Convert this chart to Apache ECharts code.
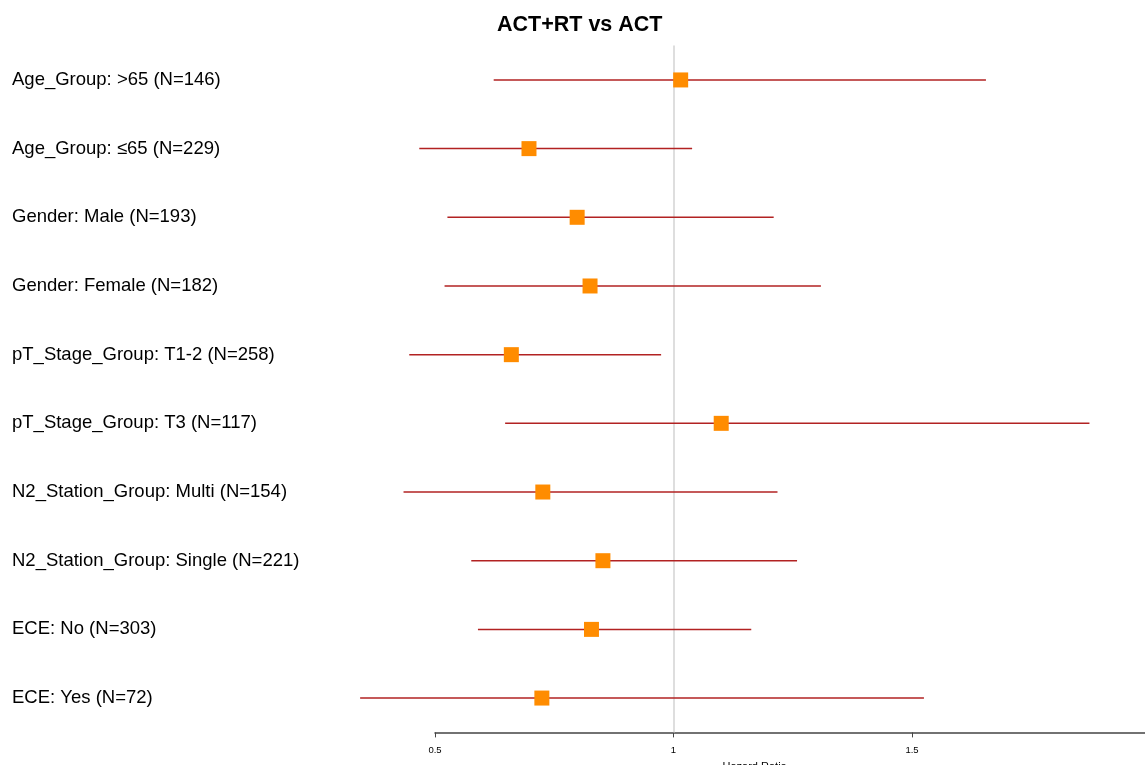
<!DOCTYPE html>
<html>
<head>
<meta charset="utf-8">
<title>ACT+RT vs ACT</title>
<script src="https://cdn.jsdelivr.net/npm/echarts@6/dist/echarts.min.js"></script>
<style>
  html, body { margin: 0; padding: 0; background: #fff; }
  #forest { width: 1145px; height: 765px; }
</style>
</head>
<body>
<div id="forest"></div>
<script>
// Subgroups, top to bottom
let subgroups = [
  "Age_Group: >65 (N=146)",
  "Age_Group: ≤65 (N=229)",
  "Gender: Male (N=193)",
  "Gender: Female (N=182)",
  "pT_Stage_Group: T1-2 (N=258)",
  "pT_Stage_Group: T3 (N=117)",
  "N2_Station_Group: Multi (N=154)",
  "N2_Station_Group: Single (N=221)",
  "ECE: No (N=303)",
  "ECE: Yes (N=72)",
];
let hazardRatio = [1.015, 0.697, 0.798, 0.825, 0.66, 1.1, 0.726, 0.852, 0.828, 0.724];
let lowerCI = [0.623, 0.467, 0.526, 0.52, 0.446, 0.647, 0.434, 0.576, 0.59, 0.343];
let upperCI = [1.655, 1.039, 1.21, 1.309, 0.974, 1.872, 1.218, 1.259, 1.163, 1.525];
let tickValues = [0.5, 1, 1.5];

// category index is used as y so the category axis maps it directly
let ciData = subgroups.map((name, i) => [lowerCI[i], upperCI[i], i]);
let hrData = subgroups.map((name, i) => [hazardRatio[i], i]);

let forestChart = echarts.init(document.getElementById("forest"));

let forestOption = {
  animation: false,
  title: {
    text: "ACT+RT vs ACT",
    left: 492,
    top: 9,
    textStyle: {
      fontFamily: "Liberation Sans, Arial, sans-serif",
      fontSize: 21.5,
      fontWeight: "bold",
      color: "#000",
    },
  },
  grid: [
    { left: 358.7, width: 791.8, top: 45.6, bottom: 32.6, outerBoundsMode: "none", containLabel: false },
    { left: 435, width: 715.5, top: 45.6, bottom: 32.6, outerBoundsMode: "none", containLabel: false },
  ],
  xAxis: [
    {
      gridIndex: 0,
      type: "value",
      min: 0.34,
      max: 2.0,
      name: "Hazard Ratio",
      nameLocation: "middle",
      nameGap: 29,
      nameTextStyle: {
        fontFamily: "Liberation Sans, Arial, sans-serif",
        fontSize: 11,
        color: "#000",
      },
      axisLine: { show: false },
      axisTick: { show: false },
      axisLabel: { show: false },
      splitLine: { show: false },
    },
    {
      gridIndex: 1,
      type: "value",
      min: 0.5,
      max: 2.0,
      interval: 0.5,
      axisLine: { show: true, lineStyle: { color: "#444", width: 1.5 } },
      axisTick: { show: true, length: 5, lineStyle: { color: "#444", width: 1 } },
      axisLabel: {
        margin: 13,
        fontFamily: "Liberation Sans, Arial, sans-serif",
        fontSize: 9.5,
        color: "#000",
        formatter: (v) => (tickValues.includes(v) ? String(v) : ""),
      },
      splitLine: { show: false },
    },
  ],
  yAxis: [
    {
      gridIndex: 0,
      type: "category",
      inverse: true,
      data: subgroups,
      axisLine: { show: false },
      axisTick: { show: false },
      axisLabel: {
        align: "left",
        margin: 346.7,
        padding: [3, 0, 0, 0],
        fontFamily: "Liberation Sans, Arial, sans-serif",
        fontSize: 18.5,
        color: "#000",
      },
    },
    {
      gridIndex: 1,
      type: "value",
      show: false,
    },
  ],
  series: [
    {
      name: "CI",
      type: "custom",
      xAxisIndex: 0,
      yAxisIndex: 0,
      encode: { x: [0, 1], y: 2 },
      data: ciData,
      renderItem: (params, api) => {
        const start = api.coord([api.value(0), api.value(2)]);
        const end = api.coord([api.value(1), api.value(2)]);
        return {
          type: "line",
          shape: { x1: start[0], y1: start[1], x2: end[0], y2: end[1] },
          style: { stroke: "#B22222", lineWidth: 1.5 },
        };
      },
      z: 2,
    },
    {
      name: "Hazard Ratio",
      type: "scatter",
      xAxisIndex: 0,
      yAxisIndex: 0,
      symbol: "rect",
      symbolSize: 15,
      itemStyle: { color: "#FF8C00", opacity: 1 },
      data: hrData,
      markLine: {
        silent: true,
        symbol: "none",
        label: { show: false },
        lineStyle: { color: "#d3d3d3", width: 1.5, type: "solid" },
        data: [{ xAxis: 1 }],
        z: 1,
      },
      z: 3,
    },
  ],
};

forestChart.setOption(forestOption);
</script>
</body>
</html>
